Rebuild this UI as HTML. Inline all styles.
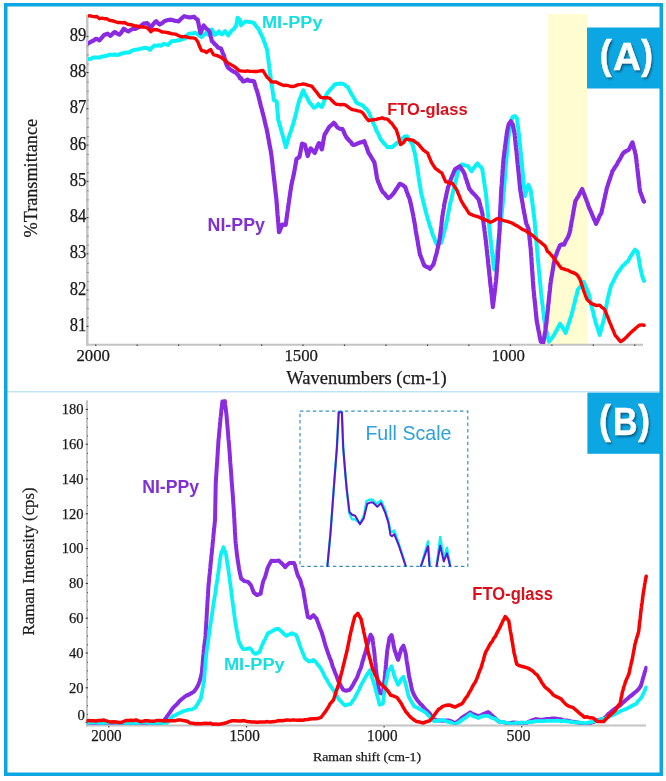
<!DOCTYPE html><html><head><meta charset="utf-8"><style>html,body{margin:0;padding:0;background:#fff;overflow:hidden;}svg{display:block;filter:blur(0.4px);}.serif{font-family:"Liberation Serif",serif;fill:#1a1a1a;stroke:#1a1a1a;stroke-width:0.25px;}.sans{font-family:"Liberation Sans",sans-serif;font-weight:bold;}.sansr{font-family:"Liberation Sans",sans-serif;}</style></head><body>
<svg width="666" height="781" viewBox="0 0 666 781">
<defs><filter id="sh" x="-20%" y="-20%" width="140%" height="140%"><feGaussianBlur stdDeviation="0.9"/></filter></defs>
<clipPath id="cA"><rect x="88" y="0" width="560" height="344"/></clipPath><clipPath id="cB"><rect x="87.5" y="395" width="560" height="329.8"/></clipPath>
<rect x="0" y="0" width="666" height="781" fill="#fff"/>
<rect x="548" y="14" width="39" height="330" fill="#FFFCD2"/>
<line x1="87.3" y1="15" x2="87.3" y2="345.5" stroke="#C4C4C4" stroke-width="2.4"/>
<line x1="86.5" y1="344.7" x2="643" y2="344.7" stroke="#C4C4C4" stroke-width="2"/>
<line x1="86.5" y1="326.3" x2="88.5" y2="326.3" stroke="#333" stroke-width="1"/>
<text class="serif" x="86.3" y="330.8" font-size="18" text-anchor="end" textLength="16.6" lengthAdjust="spacingAndGlyphs">81</text>
<rect x="87.5" y="317.2" width="1" height="1" fill="#555"/>
<rect x="87.5" y="308.2" width="1" height="1" fill="#555"/>
<rect x="87.5" y="299.1" width="1" height="1" fill="#555"/>
<line x1="86.5" y1="290.1" x2="88.5" y2="290.1" stroke="#333" stroke-width="1"/>
<text class="serif" x="86.3" y="294.6" font-size="18" text-anchor="end" textLength="16.6" lengthAdjust="spacingAndGlyphs">82</text>
<rect x="87.5" y="281.0" width="1" height="1" fill="#555"/>
<rect x="87.5" y="271.9" width="1" height="1" fill="#555"/>
<rect x="87.5" y="262.9" width="1" height="1" fill="#555"/>
<line x1="86.5" y1="253.8" x2="88.5" y2="253.8" stroke="#333" stroke-width="1"/>
<text class="serif" x="86.3" y="258.3" font-size="18" text-anchor="end" textLength="16.6" lengthAdjust="spacingAndGlyphs">83</text>
<rect x="87.5" y="244.7" width="1" height="1" fill="#555"/>
<rect x="87.5" y="235.7" width="1" height="1" fill="#555"/>
<rect x="87.5" y="226.6" width="1" height="1" fill="#555"/>
<line x1="86.5" y1="217.6" x2="88.5" y2="217.6" stroke="#333" stroke-width="1"/>
<text class="serif" x="86.3" y="222.1" font-size="18" text-anchor="end" textLength="16.6" lengthAdjust="spacingAndGlyphs">84</text>
<rect x="87.5" y="208.5" width="1" height="1" fill="#555"/>
<rect x="87.5" y="199.4" width="1" height="1" fill="#555"/>
<rect x="87.5" y="190.4" width="1" height="1" fill="#555"/>
<line x1="86.5" y1="181.3" x2="88.5" y2="181.3" stroke="#333" stroke-width="1"/>
<text class="serif" x="86.3" y="185.8" font-size="18" text-anchor="end" textLength="16.6" lengthAdjust="spacingAndGlyphs">85</text>
<rect x="87.5" y="172.2" width="1" height="1" fill="#555"/>
<rect x="87.5" y="163.2" width="1" height="1" fill="#555"/>
<rect x="87.5" y="154.1" width="1" height="1" fill="#555"/>
<line x1="86.5" y1="145.1" x2="88.5" y2="145.1" stroke="#333" stroke-width="1"/>
<text class="serif" x="86.3" y="149.6" font-size="18" text-anchor="end" textLength="16.6" lengthAdjust="spacingAndGlyphs">86</text>
<rect x="87.5" y="136.0" width="1" height="1" fill="#555"/>
<rect x="87.5" y="126.9" width="1" height="1" fill="#555"/>
<rect x="87.5" y="117.9" width="1" height="1" fill="#555"/>
<line x1="86.5" y1="108.8" x2="88.5" y2="108.8" stroke="#333" stroke-width="1"/>
<text class="serif" x="86.3" y="113.3" font-size="18" text-anchor="end" textLength="16.6" lengthAdjust="spacingAndGlyphs">87</text>
<rect x="87.5" y="99.7" width="1" height="1" fill="#555"/>
<rect x="87.5" y="90.7" width="1" height="1" fill="#555"/>
<rect x="87.5" y="81.6" width="1" height="1" fill="#555"/>
<line x1="86.5" y1="72.5" x2="88.5" y2="72.5" stroke="#333" stroke-width="1"/>
<text class="serif" x="86.3" y="77.0" font-size="18" text-anchor="end" textLength="16.6" lengthAdjust="spacingAndGlyphs">88</text>
<rect x="87.5" y="63.5" width="1" height="1" fill="#555"/>
<rect x="87.5" y="54.4" width="1" height="1" fill="#555"/>
<rect x="87.5" y="45.4" width="1" height="1" fill="#555"/>
<line x1="86.5" y1="36.3" x2="88.5" y2="36.3" stroke="#333" stroke-width="1"/>
<text class="serif" x="86.3" y="40.8" font-size="18" text-anchor="end" textLength="16.6" lengthAdjust="spacingAndGlyphs">89</text>
<rect x="95.1" y="344.5" width="1.2" height="1.5" fill="#444"/>
<rect x="136.6" y="344.5" width="1.2" height="1.5" fill="#444"/>
<rect x="178.0" y="344.5" width="1.2" height="1.5" fill="#444"/>
<rect x="219.5" y="344.5" width="1.2" height="1.5" fill="#444"/>
<rect x="261.0" y="344.5" width="1.2" height="1.5" fill="#444"/>
<rect x="302.4" y="344.5" width="1.2" height="1.5" fill="#444"/>
<rect x="343.9" y="344.5" width="1.2" height="1.5" fill="#444"/>
<rect x="385.4" y="344.5" width="1.2" height="1.5" fill="#444"/>
<rect x="426.9" y="344.5" width="1.2" height="1.5" fill="#444"/>
<rect x="468.3" y="344.5" width="1.2" height="1.5" fill="#444"/>
<rect x="509.8" y="344.5" width="1.2" height="1.5" fill="#444"/>
<rect x="551.3" y="344.5" width="1.2" height="1.5" fill="#444"/>
<rect x="592.7" y="344.5" width="1.2" height="1.5" fill="#444"/>
<rect x="634.2" y="344.5" width="1.2" height="1.5" fill="#444"/>
<text class="serif" x="93.2" y="360.6" font-size="16.8" text-anchor="middle">2000</text>
<text class="serif" x="301.2" y="360.6" font-size="16.8" text-anchor="middle">1500</text>
<text class="serif" x="508.2" y="360.6" font-size="16.8" text-anchor="middle">1000</text>
<text class="serif" x="366.5" y="383.8" font-size="18" text-anchor="middle" textLength="160.5" lengthAdjust="spacingAndGlyphs">Wavenumbers (cm-1)</text>
<text class="serif" font-size="18" text-anchor="middle" transform="translate(36.6,178.2) rotate(-90)" textLength="118.5" lengthAdjust="spacingAndGlyphs">%Transmittance</text>
<g clip-path="url(#cA)">
<polyline points="88.0,59.1 90.6,59.0 93.2,57.6 95.3,57.5 97.4,57.6 99.5,57.6 101.8,56.6 104.0,56.2 106.7,55.8 109.4,54.7 113.0,54.7 115.1,54.4 117.2,55.1 119.3,54.5 121.1,53.7 122.9,53.3 124.7,52.8 126.9,52.5 129.2,52.5 131.9,50.7 134.6,49.8 137.3,49.5 140.0,48.9 142.7,48.2 145.4,47.7 147.7,48.3 149.9,49.9 151.4,48.2 152.9,46.8 154.4,45.6 156.5,45.7 158.6,45.3 160.7,45.8 162.5,44.8 164.3,43.9 167.9,44.9 169.7,43.3 171.5,41.3 173.8,41.1 176.0,40.9 178.2,40.2 180.5,39.9 182.8,39.1 185.0,38.6 186.8,36.0 188.6,33.7 192.3,33.6 195.0,32.7 196.7,33.6 198.4,34.7 199.9,36.1 201.5,37.1 203.6,35.3 205.6,33.1 208.7,34.7 209.7,33.3 210.8,31.3 211.8,29.4 213.3,31.8 214.8,34.8 216.9,33.6 218.9,31.3 220.4,33.3 222.0,34.5 223.6,32.8 225.1,31.1 226.6,33.3 228.2,35.4 230.2,32.4 231.8,30.4 233.3,29.6 234.8,27.5 236.2,25.5 236.7,22.9 237.1,20.5 237.6,17.7 240.0,20.1 240.5,22.2 241.0,25.4 243.2,23.2 245.3,21.4 247.5,21.8 249.7,22.0 251.8,22.3 254.0,23.2 255.5,25.2 256.9,27.1 258.4,28.7 259.5,31.0 260.6,33.4 261.7,35.7 262.8,37.7 263.5,39.8 264.2,41.9 265.0,43.6 265.7,46.2 266.4,47.8 267.1,49.9 267.4,52.0 267.6,54.6 267.9,56.2 268.2,58.2 268.4,60.7 268.7,62.5 269.0,64.3 269.2,66.5 269.5,68.8 269.8,70.6 270.0,72.7 270.3,75.2 270.6,77.0 270.8,79.0 271.1,81.1 271.4,82.9 271.7,85.2 272.0,87.3 272.3,89.2 272.7,91.2 273.0,93.9 273.3,95.4 273.6,97.7 273.9,99.9 275.4,100.7 276.8,102.0 277.0,104.2 277.1,106.8 277.3,108.5 277.5,111.0 277.7,113.1 277.9,115.1 278.0,116.9 278.2,119.6 278.8,121.7 279.4,123.6 280.0,125.9 280.6,127.9 281.2,130.2 281.8,132.2 282.4,134.6 283.0,136.2 283.6,138.5 284.1,141.0 284.7,143.0 285.3,144.6 285.9,147.2 286.5,144.8 287.1,143.2 287.6,141.0 288.2,139.0 288.8,137.0 289.4,135.9 290.0,133.4 290.5,132.2 291.1,130.6 291.7,128.4 292.3,126.3 292.9,125.0 293.4,123.2 294.0,120.9 294.6,118.9 295.1,116.9 295.6,114.8 296.1,113.2 296.6,111.1 297.0,108.9 297.5,106.8 298.0,105.3 298.5,103.0 299.0,101.2 299.9,98.9 300.7,97.1 301.6,94.3 302.4,92.3 303.3,90.3 304.4,93.0 305.5,95.1 306.6,97.0 307.7,98.7 308.7,101.1 309.8,102.9 311.3,104.2 312.7,106.3 314.2,107.8 316.4,106.3 318.5,103.9 320.1,105.9 321.8,107.0 322.6,105.6 323.4,103.0 324.1,101.3 324.9,99.0 325.7,97.0 326.5,94.5 327.8,92.5 329.2,91.1 330.5,89.1 331.9,87.9 333.2,86.4 334.6,84.4 337.3,83.9 340.0,83.6 342.0,83.7 344.0,84.3 346.1,86.0 348.1,87.4 349.1,89.6 350.1,91.4 351.2,93.6 352.2,95.2 353.5,97.3 354.9,99.7 356.2,102.4 358.5,103.7 360.7,104.6 363.0,105.6 364.8,107.9 366.6,109.1 368.4,111.6 369.2,113.1 370.0,115.0 370.8,117.5 371.6,118.8 372.4,121.2 373.2,122.8 374.0,124.5 374.9,126.5 375.7,128.6 376.5,131.0 377.6,132.4 378.7,134.7 379.8,137.3 380.9,139.6 382.5,141.4 384.1,143.5 385.8,145.1 387.4,147.2 389.6,146.9 391.8,147.3 393.2,146.1 394.6,145.1 396.0,143.7 397.7,142.5 399.4,141.7 401.0,140.1 402.7,138.2 404.9,136.4 407.0,136.2 408.4,138.4 409.7,140.1 411.0,142.2 412.4,144.1 412.9,145.9 413.5,148.2 414.0,150.3 414.6,152.4 415.1,154.8 415.7,157.6 416.0,159.3 416.3,161.5 416.6,163.6 416.9,165.9 417.3,167.6 417.6,169.6 417.9,171.7 418.2,173.8 418.5,176.3 418.8,178.4 419.1,180.0 419.4,182.1 419.8,184.3 420.1,186.4 420.4,188.2 420.7,190.0 421.0,192.3 421.5,194.2 422.0,196.6 422.5,198.2 423.0,200.3 423.5,202.8 424.1,204.6 424.6,207.0 425.1,208.8 425.6,211.1 426.1,212.6 426.6,214.9 427.2,216.6 427.8,219.3 428.5,220.7 429.1,223.2 429.7,225.4 430.3,227.3 431.0,229.0 431.6,230.9 432.2,233.2 432.9,235.5 433.7,236.8 434.4,238.6 435.2,241.1 435.9,242.3 436.7,244.4 438.9,243.8 441.2,242.7 441.8,240.6 442.3,238.6 442.9,236.6 443.4,234.2 444.0,232.4 444.6,230.2 445.1,228.7 445.7,226.7 446.1,224.3 446.5,222.1 446.9,220.8 447.3,218.6 447.7,216.3 448.1,214.5 448.5,212.2 448.9,210.1 449.3,208.0 449.7,205.9 450.1,203.6 450.6,202.1 451.1,199.9 451.6,198.0 452.1,195.5 452.6,193.7 453.1,191.5 453.6,189.5 454.1,187.6 454.6,186.0 455.1,183.7 455.6,181.8 456.1,179.5 456.6,177.2 457.1,175.6 457.6,173.5 458.1,171.6 458.6,169.4 460.3,167.1 462.0,164.3 464.0,165.0 466.0,165.6 468.0,166.0 469.2,167.9 470.4,169.7 471.6,171.2 473.1,168.8 474.6,167.2 476.0,164.9 477.5,163.4 479.1,165.5 480.6,166.7 482.2,169.0 482.5,171.2 482.9,172.9 483.2,175.5 483.5,177.3 483.8,179.7 484.2,182.0 484.5,184.0 484.8,186.5 485.1,188.7 485.5,191.0 485.8,192.9 486.0,194.7 486.2,196.9 486.5,199.0 486.7,201.4 486.9,203.7 487.1,205.2 487.3,207.9 487.6,210.0 487.8,211.8 488.0,214.1 488.2,215.9 488.4,218.5 488.6,220.0 488.9,222.9 489.1,224.8 489.3,226.8 489.5,228.6 489.8,231.2 490.0,233.3 490.2,235.2 490.4,237.3 490.6,239.2 490.9,241.3 491.1,243.2 491.3,245.6 491.6,247.7 491.8,249.2 492.0,251.6 492.2,253.3 492.4,255.2 492.7,257.3 492.9,259.2 493.2,262.1 493.4,264.5 493.7,266.1 494.0,268.8 494.5,269.6 494.8,267.3 495.1,265.4 495.3,263.3 495.6,261.7 495.9,259.1 496.2,257.2 496.4,255.4 496.7,253.0 497.0,251.5 497.2,249.7 497.5,247.2 497.8,245.3 498.0,243.5 498.2,241.3 498.5,239.6 498.8,237.3 499.0,235.7 499.2,233.8 499.5,231.9 499.8,230.1 500.0,227.8 500.2,225.8 500.5,224.1 500.8,222.1 501.0,220.0 501.2,217.8 501.5,215.8 501.7,213.7 501.9,212.3 502.1,209.8 502.3,208.3 502.5,206.2 502.7,204.5 502.8,202.4 503.0,200.5 503.2,197.9 503.4,196.2 503.6,194.3 503.8,192.1 504.0,190.1 504.1,188.2 504.3,185.8 504.4,184.2 504.6,182.2 504.8,180.0 504.9,178.1 505.1,176.4 505.2,174.3 505.4,172.2 505.5,170.3 505.7,168.1 505.8,165.9 506.0,163.8 506.2,162.0 506.3,160.2 506.5,158.5 506.7,156.4 506.8,154.1 507.0,152.5 507.2,150.1 507.3,148.4 507.5,146.0 507.7,144.3 507.8,142.5 508.0,139.9 508.3,137.8 508.6,136.2 508.9,134.1 509.2,131.9 509.6,129.6 509.9,127.9 510.2,126.0 510.5,123.9 511.2,121.6 511.8,119.2 512.5,116.9 515.0,116.1 517.0,118.5 517.3,120.9 517.5,123.0 517.8,125.2 518.1,127.2 518.4,129.5 518.6,131.7 518.9,134.1 519.1,136.0 519.3,138.0 519.5,140.0 519.7,142.0 519.9,143.8 520.1,145.6 520.3,147.5 520.5,149.9 520.7,152.0 520.9,153.7 521.1,155.4 521.3,158.0 521.5,159.7 521.7,161.6 521.9,163.4 522.1,165.8 522.3,168.0 522.5,169.8 522.7,171.8 522.9,174.1 523.0,175.6 523.2,178.0 523.4,180.4 523.6,182.3 523.8,184.1 524.0,186.4 524.2,188.7 524.5,190.7 524.7,193.1 524.9,196.0 525.6,193.2 526.3,191.7 527.0,189.3 527.7,186.9 528.4,184.8 529.2,186.9 530.0,188.3 530.8,190.6 531.1,192.7 531.3,194.8 531.6,196.3 531.8,198.6 532.1,200.6 532.3,202.3 532.6,204.9 532.9,207.0 533.1,208.5 533.4,210.5 533.6,213.1 533.9,214.9 534.1,217.1 534.4,218.4 534.6,221.1 534.8,222.9 534.9,224.7 535.1,226.8 535.3,229.1 535.4,231.1 535.6,232.7 535.8,235.0 536.0,236.7 536.1,239.3 536.3,240.9 536.5,243.3 536.7,245.2 536.9,247.1 537.0,248.8 537.2,251.0 537.4,252.7 537.5,254.8 537.7,257.2 537.9,259.0 538.1,261.3 538.3,262.9 538.5,265.2 538.7,267.2 538.8,268.9 539.0,271.0 539.2,273.0 539.4,274.7 539.6,276.8 539.8,278.7 540.0,281.1 540.2,283.3 540.4,284.8 540.6,286.6 540.7,289.1 540.9,291.2 541.1,293.3 541.3,295.0 541.5,296.8 541.8,299.2 542.0,300.7 542.2,303.1 542.5,304.7 542.8,307.0 543.0,309.1 543.2,311.0 543.5,312.8 543.8,314.9 544.0,317.4 544.2,319.2 544.5,321.3 544.8,323.0 545.0,325.5 545.5,327.1 546.0,329.6 546.5,331.7 547.0,333.0 547.5,335.7 548.0,337.8 548.5,339.4 549.0,341.6 550.4,339.9 551.8,338.3 553.2,336.3 554.6,334.1 555.7,331.7 556.8,330.3 557.9,327.6 559.0,325.7 560.1,323.7 561.5,326.0 562.9,328.0 564.2,330.4 565.6,332.9 566.3,331.1 567.0,328.5 567.6,327.3 568.3,324.7 569.0,322.9 569.6,320.7 570.3,318.7 571.0,316.6 571.5,315.0 572.0,313.0 572.5,311.0 573.0,309.1 573.5,306.9 574.0,304.9 574.5,303.2 575.0,301.0 575.5,298.8 576.0,296.7 576.5,295.5 577.0,293.3 577.5,291.2 578.0,289.5 579.4,287.7 580.8,285.9 582.1,283.8 583.5,281.9 584.3,283.5 585.2,285.8 586.0,287.2 586.8,289.2 587.7,291.1 588.5,293.0 589.1,295.3 589.6,297.3 590.2,300.2 590.7,301.9 591.3,304.9 591.8,307.1 592.3,309.4 592.9,310.9 593.4,313.2 593.9,315.9 594.5,317.8 595.0,319.9 595.5,321.7 596.2,324.2 596.9,326.2 597.6,328.1 598.3,330.4 599.0,332.7 599.7,335.0 600.3,332.2 600.9,330.5 601.5,328.0 602.1,325.8 602.7,323.6 603.3,321.7 603.9,319.8 604.3,317.5 604.6,315.3 605.0,313.9 605.3,311.9 605.7,309.9 606.1,307.5 606.4,305.6 606.8,303.5 607.1,301.7 607.5,299.6 608.0,297.5 608.5,295.9 609.0,293.7 609.5,291.3 610.0,289.7 610.5,287.5 611.0,285.9 611.9,283.9 612.9,282.2 613.8,280.2 614.7,278.3 615.7,276.7 616.6,274.4 618.0,272.3 619.5,270.4 620.9,268.5 622.3,266.2 624.2,264.9 626.0,262.6 627.9,261.3 629.1,259.1 630.2,257.0 631.4,255.1 632.6,253.3 633.7,251.8 634.9,249.7 637.7,252.1 638.1,255.0 638.4,256.7 638.8,259.0 639.2,261.0 639.5,264.0 639.9,265.8 640.4,268.5 641.0,270.8 641.5,273.2 642.0,275.4 643.0,278.4 644.1,280.8" fill="none" stroke="#0AF2F6" stroke-width="4.0" stroke-linejoin="round" stroke-linecap="round" />
<polyline points="88.0,43.5 89.7,42.6 91.5,41.4 93.2,40.7 95.9,38.8 97.7,39.3 99.5,40.3 101.0,38.6 102.5,36.8 104.0,35.0 107.6,33.7 110.3,35.8 111.8,34.6 113.3,33.0 114.8,31.9 117.0,33.4 119.3,34.6 120.8,33.2 122.3,31.0 123.8,28.8 126.1,30.3 128.3,31.4 130.6,30.0 132.8,28.8 135.5,28.8 137.8,27.7 140.0,26.7 141.8,25.2 143.6,23.6 147.2,23.1 149.0,25.0 150.8,27.1 152.6,25.1 154.4,22.7 156.2,21.2 158.0,23.2 159.8,24.5 162.1,23.2 164.3,21.2 167.0,20.3 169.7,19.7 171.9,19.9 174.2,20.6 176.4,21.0 178.7,21.4 180.5,19.4 182.3,17.8 184.1,16.2 186.3,16.7 188.6,17.3 191.3,17.3 194.0,16.7 195.8,18.7 197.7,19.6 198.2,22.3 198.6,24.0 199.1,26.7 199.6,28.8 200.0,30.8 200.5,33.1 201.5,30.7 202.6,28.0 203.6,25.5 205.1,27.2 206.6,29.0 208.1,29.8 209.7,31.9 210.2,34.1 210.8,36.6 211.3,38.4 211.8,41.2 213.3,42.2 214.8,44.2 216.4,45.4 217.9,47.4 221.0,48.5 222.0,51.1 223.0,53.7 224.0,55.6 224.5,58.2 225.1,59.9 225.6,62.2 226.1,63.7 227.1,66.0 228.2,67.9 230.8,69.8 233.3,71.5 235.4,72.3 237.4,74.3 238.7,75.7 240.0,78.4 241.0,78.1 243.0,81.5 245.2,80.9 247.5,79.7 249.7,80.9 251.8,80.8 254.0,81.2 254.6,83.5 255.3,85.7 255.9,87.8 256.5,89.6 257.1,91.3 257.8,93.7 258.4,96.0 258.9,97.9 259.4,100.0 259.9,101.9 260.4,103.9 260.8,105.7 261.3,107.5 261.8,109.3 262.3,111.6 262.8,113.2 263.3,115.2 263.9,117.6 264.4,119.5 264.9,122.0 265.4,124.0 265.9,126.3 266.5,128.2 267.0,131.1 267.4,132.6 267.8,135.0 268.1,137.0 268.5,138.7 268.9,141.2 269.2,143.0 269.6,145.0 270.0,147.0 270.4,149.2 270.8,151.2 271.1,153.7 271.5,155.6 271.7,158.0 271.9,159.9 272.2,161.4 272.4,163.6 272.6,165.4 272.8,167.7 273.0,169.7 273.3,171.9 273.5,173.8 273.7,175.4 273.9,177.6 274.1,179.7 274.4,181.2 274.6,183.3 274.8,185.6 275.0,187.3 275.3,189.8 275.5,191.5 275.7,193.4 275.9,195.4 276.2,197.5 276.4,199.5 276.6,201.8 276.7,203.8 276.9,205.7 277.0,208.0 277.2,209.7 277.4,212.3 277.5,214.4 277.7,216.2 277.9,218.0 278.0,220.1 278.2,222.2 278.4,223.9 278.5,226.2 278.7,228.3 278.8,230.1 279.0,232.1 279.8,230.7 280.6,228.5 281.5,226.8 282.3,224.5 285.7,224.8 286.0,223.2 286.3,220.5 286.6,218.0 286.9,216.4 287.2,213.8 287.5,211.8 287.8,210.0 288.1,207.2 288.4,205.4 288.7,203.3 289.0,201.2 289.3,198.7 289.7,196.8 290.0,194.2 290.3,192.1 290.6,190.0 291.0,188.2 291.3,185.3 291.7,183.9 292.1,181.6 292.5,180.0 293.0,177.9 293.4,176.0 293.8,174.3 294.2,172.1 294.6,169.9 295.0,167.7 295.4,165.4 295.7,163.7 296.1,161.5 296.5,159.0 299.3,157.1 299.7,155.6 300.1,153.6 300.5,151.6 300.9,149.4 301.3,147.3 301.7,145.3 302.1,143.6 304.9,144.7 305.5,146.9 306.0,149.5 306.6,151.6 307.1,153.9 307.7,156.0 308.7,153.1 309.6,150.6 310.6,148.4 312.0,149.7 313.4,151.3 314.8,153.0 315.6,150.7 316.5,148.9 317.3,146.4 318.2,144.6 319.0,143.1 319.9,144.8 320.9,147.0 321.8,149.4 322.2,147.9 322.6,145.7 323.0,143.3 323.4,140.7 323.8,138.6 324.2,136.4 324.6,134.5 326.0,132.5 327.3,130.2 328.6,127.9 330.0,126.1 331.9,124.7 333.8,122.8 335.2,124.1 336.6,126.4 338.0,127.8 340.2,128.8 342.5,129.0 343.6,131.4 344.6,133.9 345.7,135.9 346.8,137.9 348.1,139.1 349.4,140.8 350.8,141.9 352.1,144.1 353.4,145.1 355.6,144.4 357.8,143.4 360.0,142.5 362.1,142.1 364.3,141.1 365.0,142.9 365.7,145.3 366.5,146.7 367.2,149.1 367.9,151.0 368.6,153.1 370.0,155.0 371.5,157.6 372.9,159.8 374.4,162.3 374.8,164.7 375.1,166.6 375.5,168.3 375.9,170.8 376.2,173.3 376.6,175.2 376.9,177.5 377.3,179.0 378.1,181.6 378.8,183.3 379.6,185.1 380.3,187.2 381.1,189.0 381.8,190.2 383.1,192.4 384.5,193.4 385.8,195.4 387.2,196.9 388.5,198.1 390.4,196.8 392.2,194.8 394.1,192.6 395.5,190.3 396.9,188.3 398.3,186.1 399.7,183.8 401.6,184.5 403.4,185.6 405.3,187.2 406.1,189.7 406.8,191.7 407.6,193.8 408.3,195.8 409.1,197.5 409.8,199.5 410.2,201.6 410.6,203.1 411.1,205.1 411.5,207.5 411.9,209.0 412.4,211.4 412.8,213.3 413.2,214.9 413.5,217.1 413.9,219.2 414.2,221.2 414.5,222.6 414.9,224.6 415.2,226.8 415.5,228.9 415.8,230.8 416.2,233.0 416.5,235.3 416.9,236.8 417.2,239.0 417.6,240.8 417.9,242.8 418.2,245.1 418.6,246.6 418.9,248.9 419.3,250.7 419.6,252.7 420.0,254.9 420.7,256.0 421.5,258.4 422.2,259.9 422.9,262.0 423.7,264.0 424.4,265.5 426.3,266.8 428.1,267.3 430.0,268.8 431.6,266.6 433.3,264.7 434.0,262.4 434.7,260.0 435.3,257.5 436.0,255.2 436.7,253.1 437.1,250.9 437.5,249.0 437.9,247.6 438.4,244.9 438.8,243.5 439.2,241.2 439.6,239.2 440.0,237.0 440.2,235.3 440.5,233.0 440.7,231.2 440.9,229.1 441.1,227.5 441.4,225.5 441.6,223.1 441.8,221.2 442.1,219.4 442.3,216.8 442.7,214.4 443.0,212.3 443.4,210.0 443.8,208.1 444.1,205.6 444.5,203.3 445.0,201.4 445.5,198.7 446.0,196.9 446.4,194.5 446.9,192.1 447.4,190.2 447.9,187.6 448.6,186.0 449.3,183.7 449.9,181.9 450.6,180.1 451.3,178.0 452.0,176.3 452.8,174.6 453.5,172.9 454.3,170.9 455.0,169.3 457.4,167.7 459.7,166.2 460.9,167.8 462.1,169.8 463.3,171.5 464.5,173.8 465.2,175.9 465.8,178.4 466.5,179.9 467.2,182.7 467.9,184.2 468.5,186.3 469.2,188.7 470.8,190.6 472.4,192.6 474.0,194.1 475.6,195.8 477.1,197.8 478.7,199.5 479.3,202.1 479.9,203.9 480.4,206.3 481.0,208.1 481.6,210.3 482.2,212.9 482.5,214.3 482.7,216.3 483.0,218.3 483.2,220.4 483.5,222.5 483.7,224.3 484.0,226.4 484.3,228.3 484.5,230.3 484.8,232.6 485.0,234.3 485.3,236.3 485.5,238.7 485.8,240.1 486.0,242.2 486.2,244.8 486.5,246.5 486.7,248.8 486.9,250.4 487.1,252.7 487.3,255.0 487.6,256.7 487.8,259.1 488.0,261.0 488.2,263.4 488.4,265.0 488.6,267.1 488.9,269.3 489.1,271.1 489.3,273.6 489.5,275.5 489.8,277.6 490.0,279.7 490.2,282.1 490.4,284.2 490.6,286.2 490.9,287.9 491.1,290.0 491.3,292.2 491.6,293.9 491.8,296.0 492.0,298.8 492.2,300.2 492.4,302.9 492.7,304.8 492.9,307.1 493.2,304.3 493.4,302.4 493.7,300.7 493.9,297.9 494.2,295.9 494.5,293.9 494.7,291.7 495.0,289.5 495.2,288.0 495.4,285.5 495.6,284.2 495.9,282.0 496.1,280.2 496.3,277.6 496.5,275.8 496.6,273.8 496.8,271.3 496.9,269.5 497.1,267.1 497.2,265.1 497.4,263.5 497.6,261.3 497.7,259.0 497.9,257.0 498.0,255.1 498.1,252.5 498.2,250.7 498.4,248.4 498.5,246.4 498.6,244.4 498.8,242.5 498.9,240.3 499.0,238.4 499.1,236.6 499.2,234.7 499.4,232.9 499.5,230.9 499.6,228.7 499.7,226.4 499.7,224.6 499.8,221.9 499.9,219.8 500.0,218.2 500.1,216.0 500.1,213.5 500.2,211.5 500.3,209.4 500.4,207.5 500.5,205.4 500.6,203.4 500.7,201.7 500.8,199.7 500.9,197.5 501.0,195.4 501.1,193.3 501.2,191.6 501.3,189.8 501.4,187.1 501.6,185.5 501.8,183.4 501.9,181.3 502.1,178.7 502.2,177.1 502.4,174.7 502.5,172.7 502.6,170.9 502.8,168.9 502.9,166.9 503.1,164.9 503.2,162.8 503.4,160.6 503.6,158.2 503.9,156.8 504.1,154.8 504.4,152.6 504.6,150.2 504.9,148.3 505.1,146.3 505.4,144.7 505.6,142.7 505.9,140.4 506.1,139.1 506.4,137.1 506.6,135.1 506.9,132.8 507.3,130.5 507.8,128.2 508.2,126.5 508.7,124.2 510.8,121.3 512.8,124.6 513.2,126.8 513.7,129.1 514.1,131.6 514.6,133.7 514.8,135.9 515.0,137.5 515.2,139.9 515.4,141.6 515.6,144.1 515.8,145.6 516.0,147.7 516.3,149.9 516.5,151.8 516.7,153.9 516.9,156.2 517.1,157.7 517.3,160.1 517.5,162.1 517.7,164.2 517.9,165.9 518.1,167.9 518.3,169.9 518.5,172.0 518.7,173.8 518.9,175.8 519.1,178.0 519.3,179.8 519.5,182.1 519.7,184.2 519.9,186.0 520.1,188.2 520.3,190.4 520.6,191.9 521.0,194.3 521.3,196.3 521.6,198.5 522.0,200.3 522.3,202.0 522.7,203.9 523.0,206.4 523.3,208.0 523.7,209.7 524.0,212.4 524.4,213.7 524.8,215.7 525.1,217.7 525.5,219.5 525.9,221.8 526.3,223.5 527.4,225.9 528.5,228.7 528.7,230.2 529.0,232.8 529.2,234.5 529.4,236.6 529.6,239.1 529.9,241.0 530.1,242.9 530.3,245.4 530.6,247.8 530.8,249.7 530.9,251.7 531.1,254.0 531.2,256.2 531.4,257.7 531.5,259.9 531.6,262.6 531.8,264.7 531.9,266.2 532.1,268.7 532.2,270.9 532.4,272.8 532.5,275.0 532.6,277.0 532.8,278.8 532.9,280.9 533.1,282.9 533.2,285.5 533.4,287.2 533.6,289.7 533.8,291.6 534.0,293.7 534.2,296.2 534.4,297.9 534.6,300.0 534.8,302.1 535.1,304.0 535.3,306.1 535.5,308.5 535.7,310.8 535.9,312.3 536.1,314.8 536.3,316.4 536.5,319.1 536.7,320.9 537.1,323.1 537.5,324.8 537.9,327.2 538.3,329.4 538.8,331.7 539.2,333.6 539.6,335.8 540.0,338.0 540.4,339.7 540.8,341.6 543.4,342.3 543.7,339.9 544.1,338.0 544.4,336.1 544.7,334.0 545.1,331.9 545.4,330.0 545.7,327.2 546.1,325.4 546.4,322.9 546.6,321.3 546.8,319.0 547.0,316.7 547.3,314.7 547.5,312.9 547.7,310.7 547.9,309.0 548.1,306.4 548.3,304.3 548.6,302.6 548.8,300.3 549.0,297.8 549.2,296.3 549.4,293.8 549.6,292.2 549.9,289.9 550.1,287.9 550.3,285.9 550.5,283.5 550.8,281.8 551.2,279.0 551.5,277.2 551.9,275.5 552.2,273.3 552.5,271.5 552.9,269.2 553.2,267.3 553.6,264.6 553.9,262.9 554.3,260.9 554.6,258.7 555.4,256.7 556.2,255.0 557.0,252.5 557.7,250.5 558.5,248.9 559.3,247.2 560.1,245.1 562.2,244.3 564.3,244.6 565.2,242.0 566.1,240.3 567.0,238.8 568.0,236.9 568.9,234.8 569.8,232.0 570.2,230.4 570.5,227.9 570.9,226.0 571.3,223.9 571.6,221.6 572.0,219.9 572.4,217.9 572.7,215.7 573.1,213.9 573.5,211.3 573.8,209.7 574.2,207.6 574.6,205.5 574.9,203.8 575.3,201.2 576.3,199.6 577.3,197.8 578.3,196.5 579.2,194.4 580.2,192.6 581.2,190.8 582.2,189.0 583.0,191.4 583.7,193.3 584.5,194.8 585.2,197.1 586.0,198.8 586.7,201.0 587.5,202.8 588.2,205.4 589.0,207.6 589.9,209.5 590.8,211.5 591.6,213.3 592.5,215.6 593.4,217.6 594.2,219.5 595.1,221.4 596.0,223.9 596.9,222.1 597.8,220.2 598.7,218.1 599.6,215.8 600.5,214.6 601.4,212.9 601.9,210.5 602.3,208.4 602.8,206.4 603.3,204.0 603.7,202.2 604.2,199.9 604.7,198.2 605.1,195.8 605.6,193.9 606.1,191.7 606.5,189.6 607.0,187.5 607.7,185.8 608.4,183.3 609.0,181.3 609.7,179.6 610.4,177.5 611.0,175.5 611.7,173.7 612.4,171.1 613.5,169.7 614.6,167.9 615.8,165.9 616.9,164.4 618.0,162.1 619.1,160.4 620.2,158.6 621.2,156.7 622.3,154.5 623.4,153.0 625.3,151.5 627.1,150.7 629.0,149.5 630.2,146.8 631.3,144.5 632.5,142.4 633.0,144.2 633.6,146.7 634.1,148.6 634.7,150.6 635.2,153.0 635.8,155.3 636.0,157.4 636.3,159.2 636.5,161.3 636.7,163.1 637.0,164.8 637.2,167.2 637.4,169.0 637.7,171.6 637.9,173.2 638.1,175.4 638.4,177.5 638.6,179.1 638.8,181.7 639.1,183.3 639.3,185.1 639.5,187.5 639.8,189.3 640.0,191.3 640.8,193.3 641.6,195.4 642.4,197.6 643.2,200.1 644.0,201.6" fill="none" stroke="#8A2BE2" stroke-width="4.2" stroke-linejoin="round" stroke-linecap="round" />
<polyline points="88.0,15.9 90.2,15.8 92.4,16.3 94.6,16.7 96.8,16.5 99.5,18.7 101.9,18.2 104.3,18.7 106.7,18.6 108.5,19.8 110.3,20.5 112.7,20.8 115.1,21.7 117.5,22.5 119.9,22.5 122.3,22.7 124.7,22.5 126.9,23.9 129.2,24.5 131.6,24.8 134.1,25.7 136.5,26.0 140.0,26.9 142.4,27.0 144.8,27.1 147.2,27.8 149.0,29.5 150.8,31.8 153.5,29.5 155.8,29.7 158.0,30.0 160.2,31.0 162.5,32.1 164.8,32.1 167.0,32.5 169.2,33.0 171.5,33.7 173.8,33.9 176.0,34.3 178.2,35.4 180.5,36.5 182.8,36.8 185.0,36.3 187.8,37.3 190.5,37.9 192.8,37.9 195.0,38.3 196.3,39.6 197.7,41.6 198.6,43.9 199.5,46.3 200.5,48.6 201.5,50.6 204.1,51.0 206.6,52.4 208.6,50.7 210.7,49.5 211.7,51.6 212.8,53.5 213.8,54.8 216.4,55.3 218.9,56.3 221.4,57.7 224.0,59.7 225.7,60.8 227.5,62.6 229.2,63.6 231.8,65.1 234.3,66.5 236.0,67.9 237.7,69.3 239.4,70.8 243.0,71.1 245.2,71.4 247.4,70.9 249.7,71.4 251.9,71.4 254.1,71.5 256.3,71.5 258.4,71.2 260.6,70.8 262.8,70.5 264.2,72.6 265.6,74.8 267.0,77.2 268.5,78.4 270.0,80.0 271.5,81.9 273.8,82.0 276.0,81.9 277.9,82.9 279.9,83.9 281.8,84.7 283.7,85.5 285.9,85.2 288.0,85.6 290.2,86.2 292.4,86.5 294.6,86.2 296.8,85.2 298.9,84.6 301.1,84.4 303.3,83.9 305.5,84.4 307.6,85.1 309.8,85.6 312.0,86.3 313.4,88.2 314.9,90.1 316.4,91.8 317.8,93.7 319.2,95.7 320.7,97.4 322.9,97.7 325.0,97.6 327.2,97.8 329.4,98.1 331.0,99.6 332.7,101.3 334.4,103.0 336.0,104.2 338.2,104.4 340.4,104.7 342.5,104.5 344.7,104.6 346.9,106.0 349.0,107.6 351.2,109.1 353.4,109.8 355.5,110.2 357.7,110.8 359.9,111.2 362.0,112.2 363.3,113.6 364.6,115.4 366.0,117.5 367.3,119.2 368.6,120.7 371.2,120.1 373.8,119.7 375.9,119.6 378.0,118.9 380.1,118.4 382.2,117.8 384.1,118.7 386.1,118.9 388.0,119.5 389.8,121.7 391.5,123.1 392.7,124.5 393.9,126.5 395.1,128.2 396.3,129.6 397.0,132.1 397.8,134.4 398.5,136.5 399.0,138.6 399.5,140.6 400.0,142.6 400.5,144.6 403.7,142.5 404.9,140.5 406.2,139.1 408.5,139.5 410.9,139.8 413.2,140.3 414.9,141.6 416.6,142.8 418.3,144.0 420.0,146.1 422.3,148.9 424.1,150.7 425.9,151.9 427.7,153.1 428.5,155.5 429.4,157.4 430.2,159.4 431.0,161.5 432.4,163.8 433.9,166.2 435.3,168.3 437.5,169.9 439.6,171.6 441.8,172.9 442.8,175.3 443.8,177.5 444.7,179.6 445.7,181.7 447.9,182.0 450.2,183.2 452.4,183.3 453.9,185.6 455.4,187.8 456.9,190.1 457.6,192.0 458.4,194.1 459.1,195.5 459.9,197.4 460.6,199.3 461.4,201.2 462.9,203.6 464.5,206.4 465.7,207.8 466.9,209.9 468.0,211.7 469.2,213.5 471.1,214.4 473.0,215.3 474.9,215.8 476.8,216.3 478.7,217.0 481.1,218.2 483.4,219.3 485.8,220.0 488.1,221.0 490.5,222.3 492.3,221.5 494.1,220.6 495.8,219.3 497.6,218.5 500.0,219.2 502.3,220.0 504.7,220.8 507.1,221.4 509.4,222.2 511.8,222.8 513.6,224.0 515.4,225.2 517.2,225.9 519.0,227.2 521.3,228.7 523.7,229.9 526.0,230.8 527.8,232.4 529.6,233.2 531.4,234.6 533.2,235.8 535.0,237.7 536.8,239.3 538.5,240.7 540.3,242.0 541.9,243.4 543.4,244.6 545.0,245.9 545.8,247.3 546.6,249.2 547.4,251.3 548.9,252.4 550.3,254.0 551.8,255.7 553.3,257.5 554.7,259.1 556.0,261.4 557.4,262.8 558.8,265.0 560.1,266.7 561.5,268.3 563.6,268.9 565.6,269.7 567.7,270.1 569.8,271.2 572.1,272.4 574.3,273.0 576.6,274.5 577.7,275.7 578.9,277.5 580.0,279.3 580.7,281.7 581.4,283.5 582.1,285.7 582.8,287.9 583.5,290.3 584.4,292.5 585.2,294.8 586.1,297.1 587.0,299.4 588.4,300.8 589.9,302.0 591.3,303.7 593.6,304.4 596.0,305.5 599.7,305.1 601.3,306.8 603.0,308.1 604.6,309.3 605.4,311.4 606.3,313.5 607.1,315.8 607.9,317.4 608.8,319.9 609.6,322.1 610.4,323.8 611.2,325.7 612.0,327.8 612.8,329.4 613.6,331.4 614.4,333.3 615.2,335.5 616.6,336.8 618.0,338.6 619.4,340.4 620.8,341.6 622.7,340.3 624.6,338.8 626.5,337.1 628.4,335.0 630.2,333.1 632.1,331.4 633.9,329.9 635.7,328.2 637.4,326.8 639.2,325.3 641.7,324.9 644.1,325.2" fill="none" stroke="#FA0000" stroke-width="3.4" stroke-linejoin="round" stroke-linecap="round" />
</g>
<text class="sans" x="262" y="27.8" font-size="16.8" fill="#15E0E0" textLength="60.5" lengthAdjust="spacingAndGlyphs">MI-PPy</text>
<text class="sans" x="387.2" y="114.8" font-size="17.2" fill="#D9101C" textLength="80.5" lengthAdjust="spacingAndGlyphs">FTO-glass</text>
<text class="sans" x="207.6" y="231" font-size="18.2" fill="#8230D4" textLength="57.3" lengthAdjust="spacingAndGlyphs">NI-PPy</text>
<rect x="587" y="27.5" width="74" height="61" fill="#0CA7E2"/>
<g fill="#05283c" fill-opacity="0.6" filter="url(#sh)"><text class="sans" x="601.1999999999999" y="70.8" font-size="40" textLength="11.8" lengthAdjust="spacingAndGlyphs">(</text><text class="sans" x="614.4" y="71.6" font-size="39" textLength="28" lengthAdjust="spacingAndGlyphs">A</text><text class="sans" x="642.6" y="70.8" font-size="40" textLength="11.8" lengthAdjust="spacingAndGlyphs">)</text></g><g fill="#fff" fill-opacity="1" stroke="#fff" stroke-width="0.5"><text class="sans" x="599.8" y="69.2" font-size="40" textLength="11.8" lengthAdjust="spacingAndGlyphs">(</text><text class="sans" x="613" y="70" font-size="39" textLength="28" lengthAdjust="spacingAndGlyphs">A</text><text class="sans" x="641.2" y="69.2" font-size="40" textLength="11.8" lengthAdjust="spacingAndGlyphs">)</text></g>
<line x1="7" y1="391.8" x2="660" y2="391.8" stroke="#A3D8EE" stroke-width="1"/>
<line x1="87" y1="400.3" x2="87" y2="726.5" stroke="#C4C4C4" stroke-width="2"/>
<line x1="86" y1="725.6" x2="646" y2="725.6" stroke="#C4C4C4" stroke-width="2"/>
<line x1="85.6" y1="722.6" x2="88" y2="722.6" stroke="#333" stroke-width="1"/>
<text class="serif" x="84.8" y="720.2" font-size="14.5" text-anchor="end" textLength="7.4" lengthAdjust="spacingAndGlyphs">0</text>
<rect x="87" y="713.9" width="1" height="1" fill="#555"/>
<rect x="87" y="705.2" width="1" height="1" fill="#555"/>
<rect x="87" y="696.5" width="1" height="1" fill="#555"/>
<line x1="85.6" y1="687.8" x2="88" y2="687.8" stroke="#333" stroke-width="1"/>
<text class="serif" x="83.6" y="692.6" font-size="15" text-anchor="end" textLength="14.6" lengthAdjust="spacingAndGlyphs">20</text>
<rect x="87" y="679.1" width="1" height="1" fill="#555"/>
<rect x="87" y="670.4" width="1" height="1" fill="#555"/>
<rect x="87" y="661.7" width="1" height="1" fill="#555"/>
<line x1="85.6" y1="653.0" x2="88" y2="653.0" stroke="#333" stroke-width="1"/>
<text class="serif" x="83.6" y="657.8" font-size="15" text-anchor="end" textLength="14.6" lengthAdjust="spacingAndGlyphs">40</text>
<rect x="87" y="644.3" width="1" height="1" fill="#555"/>
<rect x="87" y="635.6" width="1" height="1" fill="#555"/>
<rect x="87" y="626.9" width="1" height="1" fill="#555"/>
<line x1="85.6" y1="618.2" x2="88" y2="618.2" stroke="#333" stroke-width="1"/>
<text class="serif" x="83.6" y="623.0" font-size="15" text-anchor="end" textLength="14.6" lengthAdjust="spacingAndGlyphs">60</text>
<rect x="87" y="609.5" width="1" height="1" fill="#555"/>
<rect x="87" y="600.8" width="1" height="1" fill="#555"/>
<rect x="87" y="592.1" width="1" height="1" fill="#555"/>
<line x1="85.6" y1="583.4" x2="88" y2="583.4" stroke="#333" stroke-width="1"/>
<text class="serif" x="83.6" y="588.2" font-size="15" text-anchor="end" textLength="14.6" lengthAdjust="spacingAndGlyphs">80</text>
<rect x="87" y="574.7" width="1" height="1" fill="#555"/>
<rect x="87" y="566.0" width="1" height="1" fill="#555"/>
<rect x="87" y="557.3" width="1" height="1" fill="#555"/>
<line x1="85.6" y1="548.6" x2="88" y2="548.6" stroke="#333" stroke-width="1"/>
<text class="serif" x="83.6" y="553.4" font-size="15" text-anchor="end" textLength="21.9" lengthAdjust="spacingAndGlyphs">100</text>
<rect x="87" y="539.9" width="1" height="1" fill="#555"/>
<rect x="87" y="531.2" width="1" height="1" fill="#555"/>
<rect x="87" y="522.5" width="1" height="1" fill="#555"/>
<line x1="85.6" y1="513.8" x2="88" y2="513.8" stroke="#333" stroke-width="1"/>
<text class="serif" x="83.6" y="518.6" font-size="15" text-anchor="end" textLength="21.9" lengthAdjust="spacingAndGlyphs">120</text>
<rect x="87" y="505.1" width="1" height="1" fill="#555"/>
<rect x="87" y="496.4" width="1" height="1" fill="#555"/>
<rect x="87" y="487.7" width="1" height="1" fill="#555"/>
<line x1="85.6" y1="479.0" x2="88" y2="479.0" stroke="#333" stroke-width="1"/>
<text class="serif" x="83.6" y="483.8" font-size="15" text-anchor="end" textLength="21.9" lengthAdjust="spacingAndGlyphs">140</text>
<rect x="87" y="470.3" width="1" height="1" fill="#555"/>
<rect x="87" y="461.6" width="1" height="1" fill="#555"/>
<rect x="87" y="452.9" width="1" height="1" fill="#555"/>
<line x1="85.6" y1="444.2" x2="88" y2="444.2" stroke="#333" stroke-width="1"/>
<text class="serif" x="83.6" y="449.0" font-size="15" text-anchor="end" textLength="21.9" lengthAdjust="spacingAndGlyphs">160</text>
<rect x="87" y="435.5" width="1" height="1" fill="#555"/>
<rect x="87" y="426.8" width="1" height="1" fill="#555"/>
<rect x="87" y="418.1" width="1" height="1" fill="#555"/>
<line x1="85.6" y1="409.4" x2="88" y2="409.4" stroke="#333" stroke-width="1"/>
<text class="serif" x="83.6" y="414.2" font-size="15" text-anchor="end" textLength="21.9" lengthAdjust="spacingAndGlyphs">180</text>
<rect x="108.2" y="726" width="1.2" height="1.5" fill="#444"/>
<rect x="245.9" y="726" width="1.2" height="1.5" fill="#444"/>
<rect x="383.5" y="726" width="1.2" height="1.5" fill="#444"/>
<rect x="521.1" y="726" width="1.2" height="1.5" fill="#444"/>
<text class="serif" x="106.4" y="740.8" font-size="16" text-anchor="middle" textLength="30.4" lengthAdjust="spacingAndGlyphs">2000</text>
<text class="serif" x="244.6" y="740.8" font-size="16" text-anchor="middle" textLength="30.4" lengthAdjust="spacingAndGlyphs">1500</text>
<text class="serif" x="382.3" y="740.8" font-size="16" text-anchor="middle" textLength="30.4" lengthAdjust="spacingAndGlyphs">1000</text>
<text class="serif" x="518.6" y="740.8" font-size="16" text-anchor="middle" textLength="24.0" lengthAdjust="spacingAndGlyphs">500</text>
<text class="serif" x="367" y="761" font-size="13.5" text-anchor="middle" textLength="108" lengthAdjust="spacingAndGlyphs">Raman shift (cm-1)</text>
<text class="serif" font-size="17.5" text-anchor="middle" transform="translate(33.9,561.4) rotate(-90)" textLength="148" lengthAdjust="spacingAndGlyphs">Raman Intensity (cps)</text>
<rect x="300" y="411.2" width="167.8" height="155.2" fill="none" stroke="#3C90C0" stroke-width="1.2" stroke-dasharray="3.5,2.9"/>
<text class="sansr" x="365.4" y="439.6" font-size="19.5" fill="#2EA0DA" textLength="86" lengthAdjust="spacingAndGlyphs">Full Scale</text>
<polyline points="327.4,566.0 330.6,531.8 333.7,489.5 336.9,447.3 338.6,411.8 342.0,411.8 343.2,447.3 345.4,474.7 346.8,490.0 349.2,513.0 352.1,519.4 355.2,519.4 358.0,522.0 360.0,523.0 363.7,516.0 366.5,501.0 370.0,499.5 373.1,500.0 376.0,504.0 381.0,500.5 385.2,510.0 388.4,521.0 390.5,531.0 392.0,532.0 394.2,530.5 398.9,544.0 403.1,557.0 405.7,566.0" fill="none" stroke="#0AF2F6" stroke-width="2.3" stroke-linejoin="round" stroke-linecap="round" />
<polyline points="421.0,566.0 428.0,541.3 429.8,566.0" fill="none" stroke="#0AF2F6" stroke-width="2.3" stroke-linejoin="round" stroke-linecap="round" />
<polyline points="436.6,566.0 440.2,536.8 443.8,558.0 447.0,547.6 450.3,566.0" fill="none" stroke="#0AF2F6" stroke-width="2.3" stroke-linejoin="round" stroke-linecap="round" />
<polyline points="327.4,566.0 330.6,531.8 333.7,489.5 336.9,447.3 338.8,412.2 341.8,412.2 343.2,447.3 345.4,474.7 346.8,490.0 349.5,512.0 352.1,514.7 355.2,515.8 360.0,524.2 363.7,518.4 367.3,503.7 370.0,502.6 373.1,502.6 377.3,506.8 381.0,503.1 385.2,512.6 388.4,522.6 390.5,535.2 392.0,536.3 394.2,534.2 398.9,545.7 403.1,558.3 405.7,566.0" fill="none" stroke="#5A18D0" stroke-width="2.0" stroke-linejoin="round" stroke-linecap="round" />
<polyline points="421.0,566.0 428.0,546.2 429.5,566.0" fill="none" stroke="#5A18D0" stroke-width="2.0" stroke-linejoin="round" stroke-linecap="round" />
<polyline points="436.6,566.0 440.2,545.8 443.8,561.5 447.0,553.4 450.1,566.0" fill="none" stroke="#5A18D0" stroke-width="2.0" stroke-linejoin="round" stroke-linecap="round" />
<g clip-path="url(#cB)">
<polyline points="88.0,723.8 90.6,724.2 93.1,724.4 95.7,724.3 98.3,723.8 100.9,724.2 103.4,724.7 106.0,724.6 108.6,723.8 111.1,724.0 113.7,724.0 116.3,723.8 118.9,723.1 121.4,723.3 124.0,723.8 126.6,723.7 129.1,723.7 131.7,723.1 134.3,723.5 136.9,723.0 139.4,723.7 142.0,723.1 144.6,723.7 147.1,723.7 149.7,723.3 152.3,723.5 154.9,723.9 157.4,723.9 160.0,724.5 162.2,722.4 164.3,720.0 166.5,717.2 168.1,714.9 169.8,712.6 171.4,710.1 173.0,707.9 175.2,705.8 177.4,703.6 179.6,701.0 181.9,699.0 184.2,697.2 186.5,695.5 189.2,694.5 192.0,692.8 194.2,691.3 196.3,688.3 197.4,686.6 198.5,684.3 199.6,681.4 200.4,678.6 201.1,675.7 201.9,672.2 202.1,669.4 202.3,666.7 202.6,664.6 202.8,661.2 203.0,658.9 203.2,656.5 203.5,654.0 203.7,651.0 204.0,648.5 204.2,646.1 204.6,643.7 204.9,640.6 205.3,638.5 205.5,635.9 205.6,633.3 205.8,630.0 206.0,628.0 206.1,624.7 206.3,622.2 206.5,619.7 206.6,617.2 206.8,614.0 206.9,611.7 207.1,608.6 207.3,605.7 207.4,602.9 207.6,600.1 207.8,597.2 208.0,594.4 208.1,592.2 208.3,588.7 208.5,585.8 208.7,583.7 209.0,580.7 209.2,578.0 209.5,575.3 209.8,572.9 210.0,570.5 210.3,567.5 210.5,564.9 210.8,562.0 211.1,560.0 211.3,556.7 211.6,554.4 211.9,552.1 212.1,548.9 212.4,546.7 212.6,544.3 212.9,541.4 213.2,538.9 213.4,535.7 213.7,533.3 213.9,530.5 214.2,528.4 214.5,525.3 214.7,522.8 215.0,520.6 215.1,518.0 215.1,515.5 215.2,512.6 215.2,510.1 215.3,507.7 215.3,505.0 215.4,502.3 215.4,499.9 215.5,497.1 215.5,494.8 215.6,492.8 215.6,490.2 215.7,487.4 215.7,484.8 215.8,482.1 216.0,479.3 216.1,477.2 216.3,474.6 216.5,471.6 216.6,469.3 216.8,466.7 217.0,464.0 217.2,461.3 217.3,458.8 217.5,455.8 217.7,453.5 217.8,450.5 218.0,448.0 218.2,445.6 218.3,442.9 218.5,440.0 218.8,437.8 219.0,434.9 219.3,432.1 219.5,429.0 219.8,426.7 220.0,423.8 220.3,421.4 220.5,418.6 220.8,416.2 221.1,413.1 221.4,410.3 221.8,407.0 222.1,404.3 222.4,401.5 224.9,401.1 225.2,404.4 225.6,407.4 225.9,410.2 226.3,413.3 226.6,416.3 226.8,418.5 227.0,421.1 227.2,423.4 227.5,426.5 227.7,429.2 227.9,431.4 228.1,434.2 228.3,436.8 228.5,439.4 228.8,441.6 229.0,444.7 229.2,447.1 229.4,449.8 229.6,452.1 229.8,454.9 230.0,457.6 230.1,460.0 230.3,462.7 230.5,464.7 230.7,467.4 230.9,470.2 231.1,472.9 231.3,475.1 231.5,478.1 231.6,480.6 231.8,482.7 232.0,485.4 232.2,487.8 232.4,490.4 232.6,493.1 232.8,495.5 233.0,498.1 233.1,500.5 233.3,503.4 233.5,505.9 233.7,508.6 233.8,511.1 234.0,513.4 234.1,516.4 234.3,518.2 234.4,521.0 234.5,523.5 234.7,526.1 234.8,528.4 234.9,531.4 235.1,533.6 235.2,535.8 235.4,538.8 235.5,540.9 235.8,544.0 236.1,546.5 236.4,549.4 236.7,552.4 237.0,555.1 237.4,557.6 237.8,560.9 238.3,563.6 238.7,566.3 239.1,569.1 239.8,572.4 240.5,575.7 241.2,578.7 244.4,581.1 248.1,581.9 250.7,584.8 251.8,587.3 252.8,590.1 253.9,592.6 257.0,595.1 260.7,593.6 261.2,590.6 261.7,588.1 262.3,585.4 262.8,582.9 263.3,581.0 265.0,577.3 265.8,574.6 266.6,571.7 267.4,568.7 268.2,566.6 269.8,563.6 271.4,560.8 275.0,561.1 278.7,560.5 280.9,562.6 283.0,564.5 285.2,567.1 287.4,564.7 289.6,562.9 294.0,562.9 294.9,565.1 295.7,568.3 296.6,571.5 297.4,574.2 298.3,576.5 300.1,579.6 300.9,582.0 301.6,585.2 302.4,587.2 303.2,590.0 303.6,592.5 304.0,595.1 304.4,597.8 304.9,599.9 305.3,603.0 305.7,605.2 306.2,608.3 306.8,611.0 307.3,613.8 307.8,616.9 310.3,618.0 313.4,615.1 314.9,617.0 316.5,618.5 317.5,621.3 318.6,624.2 319.6,627.3 320.6,629.7 321.6,632.1 322.6,635.5 323.4,637.9 324.1,640.7 324.9,643.5 325.7,646.1 326.7,649.1 327.8,652.5 328.8,655.2 329.8,658.1 330.8,660.1 331.8,663.3 332.8,666.9 333.7,668.6 334.6,671.5 335.5,673.7 336.5,675.8 337.4,678.5 338.3,681.0 339.2,682.8 341.1,686.3 343.0,689.6 345.6,690.8 349.4,690.0 351.4,687.5 353.3,684.2 354.6,681.8 355.8,679.8 357.1,677.3 358.1,674.7 359.1,671.7 360.0,669.9 361.0,667.4 361.8,664.6 362.5,661.5 363.3,659.5 364.0,656.5 364.8,654.2 365.6,651.6 366.4,648.5 367.2,645.2 368.0,642.9 368.9,639.7 369.7,637.5 370.6,634.7 372.5,638.1 372.8,641.0 373.1,643.1 373.4,645.7 373.8,648.4 374.1,650.7 374.4,653.2 374.7,656.2 374.9,658.9 375.2,661.5 375.5,663.5 375.8,666.3 376.0,669.0 376.3,671.4 376.6,674.4 377.0,676.5 377.3,678.7 377.6,681.8 378.0,683.9 378.3,686.9 379.0,689.7 379.6,692.9 382.9,693.7 383.2,691.1 383.5,688.2 383.8,685.8 384.1,683.3 384.4,680.5 384.7,677.5 385.0,675.0 385.2,672.4 385.5,670.0 385.7,666.9 386.0,664.7 386.2,662.0 386.5,658.8 386.7,656.6 387.0,653.5 387.2,650.9 387.6,648.6 388.1,645.7 388.5,643.6 389.0,640.7 389.4,638.0 391.6,635.0 392.1,637.7 392.7,639.9 393.2,642.7 393.7,646.0 394.3,648.5 394.8,650.8 395.9,653.6 397.0,657.2 398.1,659.8 398.9,657.2 399.8,653.9 400.6,651.4 401.4,648.6 403.5,645.6 404.2,648.5 405.0,650.9 405.7,653.6 406.1,656.2 406.5,659.5 406.9,662.1 407.4,664.9 407.8,667.4 408.2,670.1 408.6,672.9 409.0,675.6 409.5,678.3 410.1,680.6 410.6,682.9 411.1,685.5 411.7,688.2 412.2,690.6 413.7,694.2 415.1,696.8 416.6,699.3 418.4,701.5 420.2,703.7 422.0,705.3 423.6,707.3 425.3,709.2 427.5,711.3 429.7,713.4 431.1,715.6 432.6,718.2 434.0,719.8 436.9,720.2 439.8,720.5 442.7,720.8 445.6,720.6 448.5,720.4 451.4,721.3 455.0,723.4 457.4,721.6 459.8,719.7 462.2,717.6 464.9,715.7 467.5,714.3 470.2,712.3 472.9,714.1 475.6,715.0 478.3,716.3 480.8,715.4 483.2,714.1 485.7,713.2 488.2,712.1 490.3,713.8 492.3,715.8 494.4,717.5 497.1,720.2 499.8,721.9 502.8,722.1 505.8,722.9 508.8,722.9 511.4,722.8 513.9,722.5 516.5,722.7 519.0,723.4 521.6,722.7 524.1,722.9 526.7,722.9 529.7,721.3 532.6,720.1 535.6,719.1 538.4,719.5 541.1,720.0 543.9,719.4 546.7,719.1 549.5,718.9 552.2,718.6 555.0,718.6 558.0,718.9 560.9,719.2 563.8,720.5 566.8,720.4 569.5,721.0 572.2,721.8 574.9,722.1 577.6,722.5 580.4,723.1 583.1,723.7 585.8,724.1 588.5,724.2 591.4,722.7 594.3,721.6 597.2,720.1 600.5,719.4 603.8,718.6 606.0,716.7 608.1,714.2 610.3,712.5 612.5,710.5 614.6,708.9 616.8,707.4 619.0,706.2 621.2,704.4 623.4,702.2 625.6,700.2 627.7,698.5 629.9,696.5 632.1,695.0 634.2,693.0 636.4,691.2 638.6,689.1 640.8,686.0 641.6,683.3 642.4,680.6 643.2,677.6 644.0,675.0 644.7,672.3 645.5,670.1 646.2,667.8" fill="none" stroke="#8A2BE2" stroke-width="4.0" stroke-linejoin="round" stroke-linecap="round" />
<polyline points="88.0,723.0 90.5,722.6 93.1,722.3 95.6,722.2 98.1,722.9 100.7,723.0 103.2,723.1 105.7,722.9 108.3,722.6 110.8,722.4 113.3,722.4 115.9,722.9 118.4,722.8 120.9,722.8 123.5,722.6 126.0,723.1 128.5,723.6 131.0,723.6 133.6,723.5 136.1,723.2 138.6,723.1 141.2,722.7 143.7,722.2 146.2,722.3 148.8,723.2 151.3,723.3 153.8,722.8 156.4,723.3 158.9,723.1 161.4,723.4 164.0,723.3 166.5,723.4 168.7,721.1 170.8,718.4 173.0,716.1 175.3,715.4 177.7,713.7 180.0,712.9 182.9,711.3 185.8,710.5 188.7,709.7 191.9,709.4 195.2,707.8 196.6,705.4 197.9,703.5 199.3,700.9 200.7,699.1 201.2,696.3 201.6,694.1 202.1,691.9 202.6,688.8 203.1,686.3 203.5,684.0 204.0,681.9 204.2,679.2 204.4,676.3 204.6,673.8 204.8,671.0 205.1,668.6 205.3,665.7 205.5,663.6 205.7,661.1 205.9,658.6 206.1,655.8 206.5,653.3 206.8,649.9 207.2,647.5 207.6,645.4 207.9,642.6 208.3,640.0 208.7,637.1 209.0,634.6 209.4,631.6 209.8,628.8 210.2,626.2 210.6,623.2 211.1,620.7 211.5,618.4 211.9,615.2 212.3,612.2 212.7,609.5 213.1,606.9 213.5,604.7 213.9,601.6 214.3,598.9 214.8,596.0 215.2,594.0 215.6,590.8 216.0,587.8 216.4,585.1 216.8,582.5 217.3,580.2 217.7,577.0 218.1,574.2 218.4,572.0 218.8,569.3 219.1,567.4 219.4,564.2 219.8,562.0 220.1,559.7 220.5,556.9 220.8,554.8 222.1,551.0 223.4,547.3 224.7,550.6 226.0,554.3 226.4,557.0 226.9,560.3 227.3,563.1 227.7,565.7 228.2,568.1 228.6,571.1 228.9,573.6 229.3,576.1 229.6,578.6 229.9,581.7 230.3,583.6 230.6,586.0 231.0,589.2 231.3,591.4 231.6,594.4 231.9,596.4 232.2,599.2 232.6,602.0 232.9,604.6 233.3,607.1 233.7,609.5 234.0,612.3 234.4,615.5 234.8,618.2 235.1,621.0 235.5,623.2 236.0,626.0 236.4,628.6 236.9,631.1 237.4,633.7 237.9,636.0 238.3,638.7 238.8,641.2 240.2,644.3 241.7,647.2 243.1,649.2 246.4,648.9 249.7,648.1 251.5,649.7 253.3,652.5 255.1,653.9 259.5,652.2 260.6,649.0 261.6,646.3 262.7,644.0 263.8,641.2 265.3,639.0 266.7,635.8 268.2,633.0 270.9,632.0 273.6,630.2 276.1,629.0 278.7,629.0 280.6,630.7 282.5,632.2 284.4,634.4 286.3,635.8 289.1,634.4 291.8,633.2 296.1,635.0 297.0,637.4 297.9,639.4 298.7,641.9 299.6,644.7 300.5,647.1 301.6,650.1 302.6,652.6 303.7,654.9 304.8,658.1 307.0,660.0 309.2,661.6 313.5,659.9 315.7,661.8 317.8,664.7 320.0,667.2 321.3,669.4 322.6,671.8 323.8,674.4 325.1,677.2 326.4,679.0 328.0,681.9 329.6,684.6 331.2,686.8 332.8,689.2 334.4,692.1 336.0,694.0 337.6,697.3 339.2,699.6 341.2,701.6 343.1,703.9 345.1,705.6 347.8,704.4 350.5,704.2 352.6,700.9 354.6,698.4 356.3,694.9 358.0,691.7 359.4,689.0 360.9,685.4 362.3,682.8 363.5,680.7 364.8,678.4 366.0,676.3 367.9,673.4 369.9,670.3 370.7,673.3 371.5,675.4 372.2,678.1 373.0,680.8 373.8,682.9 374.6,685.7 375.3,688.4 376.1,691.5 376.8,694.0 377.6,697.1 378.3,699.2 378.9,702.2 379.6,704.7 382.9,703.7 383.2,701.0 383.6,698.2 383.9,696.1 384.3,693.5 384.6,690.5 385.0,687.9 385.5,685.5 385.9,683.5 386.4,680.5 386.9,678.6 387.4,675.7 387.8,673.4 388.3,670.7 390.0,668.8 391.6,666.2 392.4,669.6 393.2,671.7 394.0,674.8 394.8,677.3 395.9,679.8 397.0,682.2 398.1,684.7 399.8,682.2 401.4,678.9 403.5,676.8 404.2,679.6 405.0,681.6 405.7,684.6 406.4,687.1 407.0,689.8 407.7,692.7 408.3,695.4 409.0,697.3 410.4,699.9 411.7,702.1 413.0,704.3 414.4,706.4 417.7,707.8 421.0,709.9 423.7,711.2 426.4,713.2 428.6,715.6 430.8,718.0 434.0,721.1 436.9,720.8 439.8,720.5 442.7,719.9 445.6,721.1 448.5,721.9 451.4,722.7 455.0,724.4 457.4,723.3 459.8,721.7 462.2,719.8 464.9,718.2 467.5,716.2 470.2,714.1 472.9,716.0 475.6,717.0 478.3,718.0 480.8,716.8 483.2,716.1 485.7,715.9 488.2,715.9 490.5,717.1 492.8,718.2 495.2,718.9 497.5,720.4 499.8,722.3 502.8,721.9 505.8,722.7 508.8,723.2 511.4,723.8 513.9,723.4 516.5,722.9 519.0,722.7 521.6,722.9 524.1,722.7 526.7,722.6 529.7,721.9 532.6,722.0 535.6,721.2 538.4,721.2 541.1,721.2 543.9,721.1 546.7,720.8 549.5,720.9 552.2,720.8 555.0,720.8 558.0,720.7 560.9,721.1 563.8,721.0 566.8,721.3 569.5,721.6 572.2,722.0 574.9,722.5 577.6,722.4 580.4,722.7 583.1,722.9 585.8,723.4 588.5,722.5 591.4,722.2 594.3,721.0 597.2,721.0 600.5,719.5 603.8,719.0 606.5,718.0 609.2,716.4 612.0,715.5 614.7,714.3 618.0,712.5 621.2,710.8 624.1,709.7 627.0,708.5 629.9,707.0 633.1,705.3 636.4,703.7 638.2,700.9 640.1,699.2 641.9,696.9 643.0,694.1 644.0,692.3 645.1,689.6 646.2,687.4" fill="none" stroke="#0AF2F6" stroke-width="3.8" stroke-linejoin="round" stroke-linecap="round" />
</g>
<polyline points="88.0,720.5 90.7,720.8 93.3,720.7 96.0,721.0 98.7,720.6 101.3,720.4 104.0,720.1 108.0,721.4 110.8,722.1 113.6,721.8 116.4,722.1 119.2,722.4 122.0,722.2 126.0,720.5 128.5,720.4 131.0,720.3 133.5,720.5 136.0,719.9 140.0,721.5 142.5,721.4 145.0,720.8 147.5,720.8 150.0,721.1 152.5,721.3 155.0,720.9 157.5,720.4 160.0,720.4 162.5,720.8 165.0,720.9 167.5,720.7 170.0,720.7 172.5,720.7 175.0,720.7 177.5,720.1 180.0,719.9 184.4,720.7 187.3,721.3 190.1,723.0 193.0,723.3 195.5,723.8 198.1,723.6 200.6,723.8 203.2,723.4 205.7,723.3 208.2,723.6 210.8,723.3 213.3,724.3 215.9,723.9 218.4,724.4 221.0,723.9 223.5,723.5 226.4,722.7 229.3,721.6 232.2,720.7 235.1,720.8 238.1,721.1 241.0,721.0 243.9,720.6 246.8,721.4 249.7,721.7 252.2,722.1 254.8,722.0 257.3,722.3 259.9,722.0 262.4,722.0 264.9,721.9 267.5,721.6 270.0,722.1 272.5,721.7 275.0,721.6 277.5,720.8 280.0,720.5 282.5,720.7 285.0,720.2 287.5,719.9 290.0,720.4 292.5,719.9 295.0,720.1 297.5,720.2 300.0,720.0 302.5,720.2 305.0,719.7 307.5,719.5 310.0,719.0 312.5,718.7 315.0,718.8 318.0,718.5 321.0,717.3 322.5,715.5 324.1,713.3 325.6,711.4 327.1,709.0 328.5,706.9 330.0,703.8 333.4,700.0 334.2,697.8 335.1,694.9 335.9,692.3 336.7,689.8 337.5,687.7 338.4,684.8 339.2,682.7 339.8,680.1 340.5,676.9 341.1,674.4 341.7,672.4 342.4,669.6 343.0,666.9 343.6,664.6 344.3,661.8 344.9,659.2 345.6,656.3 346.2,654.0 346.9,651.3 347.4,648.9 348.0,646.2 348.5,643.0 349.1,640.7 349.6,637.5 350.2,634.8 350.7,632.5 351.4,629.8 352.0,627.3 352.6,624.8 353.3,621.8 354.0,619.8 354.6,616.7 357.8,613.4 359.4,616.2 361.0,618.8 361.5,621.0 362.1,623.8 362.6,626.4 363.2,628.4 363.7,631.6 364.3,634.2 364.8,636.3 365.4,639.2 365.9,641.5 366.5,643.9 367.0,646.8 367.6,648.8 368.1,652.1 368.7,654.1 369.5,657.5 370.2,659.6 371.0,663.0 371.7,665.3 372.5,668.7 373.8,671.2 375.0,674.5 376.3,676.8 378.1,680.5 380.0,683.2 381.8,684.8 384.0,686.5 386.1,689.0 388.3,691.5 390.5,695.0 393.8,696.1 397.0,697.5 398.5,699.5 399.9,701.5 401.4,703.7 402.8,706.6 404.3,709.0 405.7,711.6 407.5,713.5 409.4,716.0 411.2,717.6 413.9,719.8 416.6,721.6 419.9,722.1 423.1,723.0 426.4,721.7 429.7,720.8 431.9,718.4 434.0,715.6 435.5,713.4 436.9,711.5 438.4,709.4 440.5,708.3 442.7,706.3 446.0,705.3 449.3,704.9 452.1,706.0 455.0,707.1 457.4,705.8 459.8,704.7 462.2,703.6 463.6,701.5 465.0,699.1 466.5,697.2 467.9,695.2 469.3,692.4 470.7,690.2 472.2,687.2 473.6,684.6 475.1,682.5 476.5,679.4 477.4,677.4 478.3,674.4 479.2,672.2 480.1,670.0 481.0,667.8 481.9,664.9 482.6,662.6 483.3,660.3 484.1,657.2 484.8,654.8 485.5,652.4 486.8,650.2 488.1,647.8 489.5,645.2 490.8,643.0 492.3,641.3 493.8,638.2 495.3,636.5 496.6,633.7 498.0,631.1 499.4,628.5 500.7,625.7 501.8,623.5 502.9,620.9 504.1,619.0 505.2,616.5 507.0,618.4 508.8,621.0 509.2,623.4 509.7,626.5 510.1,629.2 510.6,632.1 511.1,634.5 511.5,637.2 511.9,639.9 512.4,642.5 512.8,644.7 513.2,647.6 513.7,650.0 514.1,653.3 514.8,655.4 515.5,659.0 516.1,661.8 516.8,664.2 519.0,665.5 521.3,666.2 524.3,667.0 527.3,667.9 530.3,669.4 532.7,670.9 535.0,673.4 537.4,675.1 538.8,677.6 540.3,679.6 541.7,682.5 543.2,684.3 544.6,686.6 547.0,688.7 549.4,690.7 551.2,692.4 553.0,694.7 554.8,695.8 558.0,697.3 561.3,699.1 563.1,701.4 565.0,703.4 566.8,705.1 570.0,706.7 573.3,707.7 575.5,709.7 577.6,711.4 579.8,713.5 582.0,715.1 584.2,717.2 587.1,716.8 590.0,717.8 592.9,717.9 595.0,719.5 597.2,721.4 600.5,721.5 603.8,721.5 606.0,718.9 608.1,716.9 610.3,714.9 612.1,713.4 613.9,711.7 615.7,709.9 617.2,707.3 618.6,705.0 620.1,703.5 620.6,700.7 621.2,697.7 621.8,695.4 622.3,692.3 623.1,689.8 623.9,686.8 624.7,684.5 625.5,681.7 626.6,679.1 627.7,676.8 628.8,674.2 629.5,671.5 630.1,668.1 630.8,665.3 631.4,662.5 632.1,660.1 632.6,657.2 633.0,655.0 633.5,652.2 633.9,650.2 634.4,647.9 634.8,644.9 635.3,643.1 636.1,640.2 637.0,637.1 637.8,634.6 638.6,631.7 638.9,629.4 639.2,626.8 639.5,623.4 639.9,620.6 640.2,618.3 640.5,615.4 640.8,612.4 641.1,609.6 641.4,607.5 641.7,604.9 642.1,602.7 642.4,600.0 642.7,597.6 643.0,595.3 643.4,592.4 643.8,590.1 644.3,587.0 644.7,584.1 645.1,582.3 645.7,578.8 646.2,576.3" fill="none" stroke="#FA0000" stroke-width="3.5" stroke-linejoin="round" stroke-linecap="round" />
<text class="sans" x="142.2" y="492.8" font-size="18.3" fill="#8230D4" textLength="57" lengthAdjust="spacingAndGlyphs">NI-PPy</text>
<text class="sans" x="223.9" y="669.6" font-size="16.8" fill="#15E0E0" textLength="60.8" lengthAdjust="spacingAndGlyphs">MI-PPy</text>
<text class="sans" x="472.3" y="599.7" font-size="17.6" fill="#D9101C" textLength="80.7" lengthAdjust="spacingAndGlyphs">FTO-glass</text>
<rect x="587.4" y="392.6" width="74" height="61.2" fill="#0CA7E2"/>
<g fill="#05283c" fill-opacity="0.6" filter="url(#sh)"><text class="sans" x="600.4" y="435.8" font-size="40" textLength="11.8" lengthAdjust="spacingAndGlyphs">(</text><text class="sans" x="614.4" y="436.6" font-size="39" textLength="24.5" lengthAdjust="spacingAndGlyphs">B</text><text class="sans" x="639.6" y="435.8" font-size="40" textLength="11.8" lengthAdjust="spacingAndGlyphs">)</text></g><g fill="#fff" fill-opacity="1" stroke="#fff" stroke-width="0.5"><text class="sans" x="599" y="434.2" font-size="40" textLength="11.8" lengthAdjust="spacingAndGlyphs">(</text><text class="sans" x="613" y="435" font-size="39" textLength="24.5" lengthAdjust="spacingAndGlyphs">B</text><text class="sans" x="638.2" y="434.2" font-size="40" textLength="11.8" lengthAdjust="spacingAndGlyphs">)</text></g>
<rect x="5.75" y="4.75" width="655.5" height="769.5" fill="none" stroke="#0CA7E2" stroke-width="3.5"/>
</svg></body></html>
